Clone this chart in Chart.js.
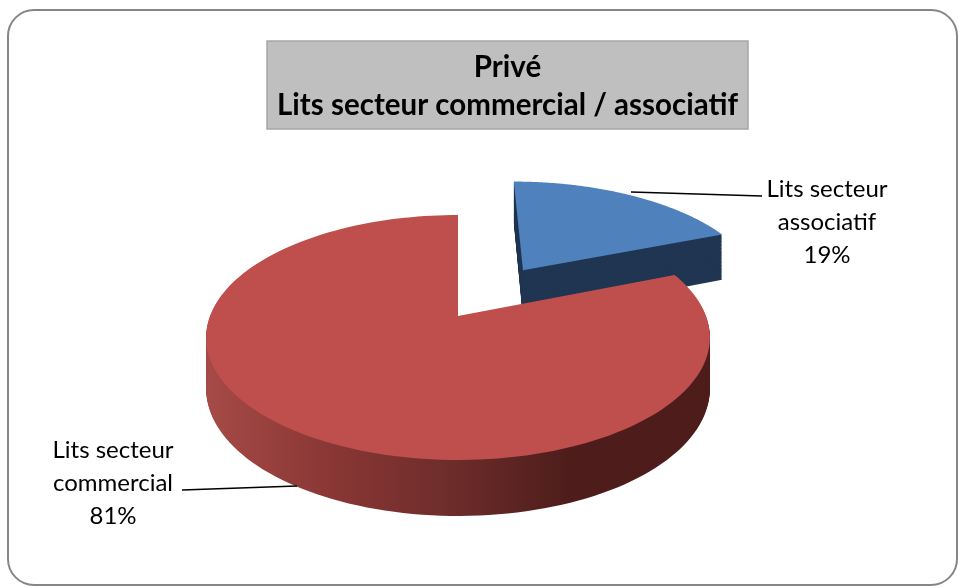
<!DOCTYPE html>
<html>
<head>
<meta charset="utf-8">
<title>Lits secteur commercial / associatif</title>
<script src="https://cdn.jsdelivr.net/npm/chart.js@4/dist/chart.umd.min.js"></script>
<style>
    html, body { margin: 0; padding: 0; background: #fff; }
    canvas { display: block; }
</style>
</head>
<body>
<canvas id="pieChart" width="958" height="587"></canvas>
<script>
// Données
const categories = ['Lits secteur associatif', 'Lits secteur commercial'];
const percents = [19, 81];
const titleLines = ['Privé', 'Lits secteur commercial / associatif'];
const labelLines = [['Lits secteur', 'associatif'], ['Lits secteur', 'commercial']];

const topColors = ['#4f81bd', '#be4f4c'];
const sliceExplode = [0.5, 0];

// Perspective de la tarte 3D
const pieX = 458, pieY = 316, pieA = 248, pieB = 118.7, pieK = -0.1755;
const steps = 160;

function project(u, v, h) {
    const den = 1 + pieK * v;
    return [pieX + pieA * u / den, pieY + pieB * v / den + h * (50 + 6 * v)];
}

function slicePath(ctx, arc, explode, h) {
    const a0 = arc.startAngle, a1 = arc.endAngle, mid = (a0 + a1) / 2;
    const ox = explode * Math.cos(mid), oy = explode * Math.sin(mid);
    ctx.beginPath();
    ctx.moveTo(...project(ox, oy, h));
    for (let i = 0; i <= steps; i++) {
        const a = a0 + (a1 - a0) * i / steps;
        ctx.lineTo(...project(ox + Math.cos(a), oy + Math.sin(a), h));
    }
    ctx.closePath();
}

const pie3d = {
    id: 'pie3d',
    beforeDraw(chart) {
        const ctx = chart.ctx;
        // cadre arrondi
        ctx.save();
        ctx.fillStyle = '#fff';
        ctx.fillRect(0, 0, 958, 587);
        ctx.strokeStyle = '#868686';
        ctx.lineWidth = 2;
        ctx.beginPath();
        ctx.roundRect(8, 10, 949, 575, 26);
        ctx.stroke();
        // fond du titre
        ctx.fillStyle = '#bfbfbf';
        ctx.strokeStyle = '#a6a6a6';
        ctx.lineWidth = 1.5;
        ctx.fillRect(267, 41, 481, 88);
        ctx.strokeRect(267, 41, 481, 88);
        ctx.restore();
    },
    beforeDatasetsDraw(chart) {
        const ctx = chart.ctx;
        const arcs = chart.getDatasetMeta(0).data;
        const redSide = ctx.createLinearGradient(203, 0, 708, 0);
        redSide.addColorStop(0, '#a64b48');
        redSide.addColorStop(0.25, '#8a3735');
        redSide.addColorStop(0.5, '#6c2c2a');
        redSide.addColorStop(0.72, '#4e1d1b');
        redSide.addColorStop(1, '#4e1d1b');
        const sideColors = ['#203652', redSide];

        ctx.save();
        arcs.forEach((arc, i) => {
            const props = arc.getProps(['startAngle', 'endAngle']);
            ctx.fillStyle = sideColors[i];
            for (let h = 1; h > 0; h -= 1 / 56) {
                slicePath(ctx, props, sliceExplode[i], h);
                ctx.fill();
            }
            ctx.fillStyle = arc.options.backgroundColor;
            slicePath(ctx, props, sliceExplode[i], 0);
            ctx.fill();
        });
        ctx.restore();
        return false;
    },
    afterDraw(chart) {
        const ctx = chart.ctx;
        ctx.save();
        // traits de rappel
        ctx.strokeStyle = '#000';
        ctx.lineWidth = 1.5;
        ctx.beginPath();
        ctx.moveTo(631, 192);
        ctx.lineTo(762, 196);
        ctx.moveTo(182, 490);
        ctx.lineTo(297, 486);
        ctx.stroke();
        // étiquettes
        ctx.fillStyle = '#000';
        ctx.font = '24px Lato';
        ctx.textAlign = 'center';
        const anchors = [[827, 197], [113, 458]];
        percents.forEach((p, i) => {
            const lines = labelLines[i].concat(p + '%');
            lines.forEach((t, j) => ctx.fillText(t, anchors[i][0], anchors[i][1] + j * 33));
        });
        ctx.restore();
    }
};

new Chart(document.getElementById('pieChart'), {
    type: 'pie',
    data: {
        labels: categories,
        datasets: [{ data: percents, backgroundColor: topColors, borderWidth: 0 }]
    },
    options: {
        responsive: false,
        animation: false,
        rotation: 0,
        layout: { padding: { left: 57 } },
        plugins: {
            legend: { display: false },
            tooltip: { enabled: false },
            title: {
                display: true,
                text: titleLines,
                fullSize: false,
                color: '#000',
                font: { family: 'Lato', size: 29.5, weight: 'bold', lineHeight: 1.29 },
                padding: { top: 48, bottom: 0 }
            }
        }
    },
    plugins: [pie3d]
});
</script>
</body>
</html>
